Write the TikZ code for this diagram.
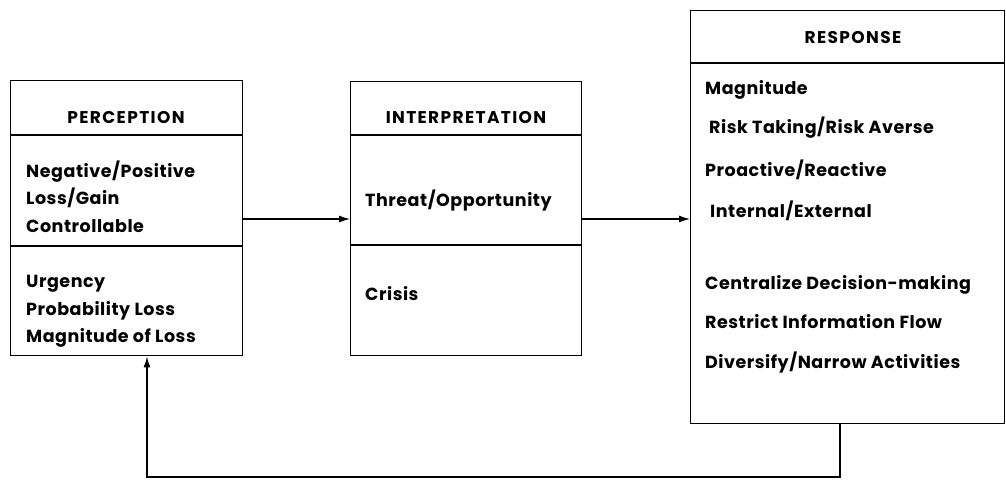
\documentclass[tikz,border=0pt]{standalone}
\usepackage{fontspec}
\setmainfont{Poppins}
\newfontfamily\bodyfnt[LetterSpace=3]{Poppins}
\newfontfamily\hdrfnt[LetterSpace=8]{Poppins}
\usetikzlibrary{arrows.meta}
\begin{document}
\begin{tikzpicture}[x=1pt,y=-1pt,
  box/.style={draw, line width=1.4pt, inner sep=0pt, anchor=north west},
  sep/.style={line width=1.4pt},
  arr/.style={line width=1.2pt, -{Latex[length=11pt,width=7pt]}},
  txt/.style={anchor=base west, inner sep=0pt, font=\bodyfnt\fontsize{17.5}{20}\selectfont\bfseries},
  hdr/.style={anchor=base, inner sep=0pt, font=\hdrfnt\fontsize{17}{20}\selectfont\bfseries}]
\useasboundingbox (0,0) rectangle (1006,479);
% boxes
\node[box, minimum width=232pt, minimum height=275pt] (per) at (10,80) {};
\node[box, minimum width=231pt, minimum height=274pt] (inter) at (350,81) {};
\node[box, minimum width=314pt, minimum height=413pt] (resp) at (690,10) {};
% separators
\draw[sep] (per.west |- 0,135) -- (per.east |- 0,135);
\draw[sep] (per.west |- 0,246) -- (per.east |- 0,246);
\draw[sep] (inter.west |- 0,135) -- (inter.east |- 0,135);
\draw[sep] (inter.west |- 0,245) -- (inter.east |- 0,245);
\draw[sep] (resp.west |- 0,63) -- (resp.east |- 0,63);
% headers
\node[hdr] (perh) at (126,123) {PERCEPTION};
\node[hdr] (interh) at (466,123) {INTERPRETATION};
\node[hdr] (resph) at (853,43) {RESPONSE};
% perception text
\node[txt] (p1) at (26,177) {Negative/Positive};
\node[txt] (p2) at (26,204) {Loss/Gain};
\node[txt] (p3) at (26,232) {Controllable};
\node[txt] (p4) at (26,287) {Urgency};
\node[txt] (p5) at (26,315) {Probability Loss};
\node[txt] (p6) at (26,342) {Magnitude of Loss};
% interpretation text
\node[txt] (i1) at (365,206) {Threat/Opportunity};
\node[txt] (i2) at (365,300) {Crisis};
% response text
\node[txt] (r1) at (705,94) {Magnitude};
\node[txt] (r2) at (709,133) {Risk Taking/Risk Averse};
\node[txt] (r3) at (705,176) {Proactive/Reactive};
\node[txt] (r4) at (710,217) {Internal/External};
\node[txt] (r5) at (705,289) {Centralize Decision-making};
\node[txt] (r6) at (705,328) {Restrict Information Flow};
\node[txt] (r7) at (705,368) {Diversify/Narrow Activities};
% connectors
\coordinate (a1) at (242,219);
\coordinate (a2) at (581,219);
\draw[arr] (per.east |- a1) -- (inter.west |- a1);
\draw[arr] (inter.east |- a2) -- (resp.west |- a2);
\coordinate (fbR) at (840,477);
\coordinate (fbL) at (147,477);
\draw[arr, line width=1.4pt] (fbR |- resp.south) -- (fbR) -- (fbL) -- (fbL |- per.south);
\end{tikzpicture}
\end{document}
